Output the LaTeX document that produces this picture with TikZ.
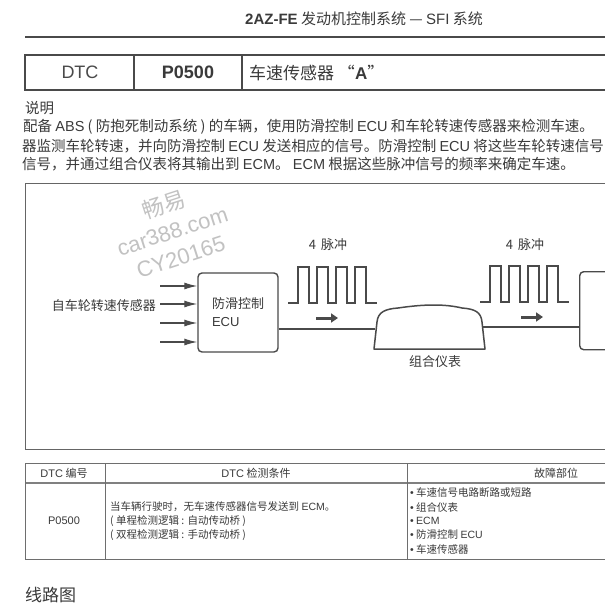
\documentclass[tikz,border=0pt]{standalone}
\usepackage{fontspec}
\setmainfont{Noto Sans CJK SC}
\newfontfamily\lat{Liberation Sans}
\usetikzlibrary{arrows.meta}
\definecolor{tinta}{HTML}{3A3A3A}
\definecolor{trazo}{HTML}{4A4A4A}
\definecolor{marca}{HTML}{C2C2C2}
\newcommand{\en}[1]{{\lat #1}}

\begin{document}
\begin{tikzpicture}[x=1pt,y=-1pt,
   texto/.style={anchor=west,text=tinta,inner sep=0pt,font=\fontsize{14.5}{16}\selectfont},
   tabla/.style={text=tinta,inner sep=0pt,font=\fontsize{10.5}{12}\selectfont},
   rotulo/.style={text=tinta,inner sep=0pt,font=\fontsize{13}{15}\selectfont},
   caja/.style={draw=trazo,line width=1.4pt,rounded corners=4pt,inner sep=0pt},
   linea/.style={trazo,line width=1.2pt},
   pulso/.style={trazo,line width=2pt,line join=miter},
   flecha/.style={trazo,line width=3pt,-{Triangle[length=7pt,width=9pt]}},
   entrada/.style={trazo,line width=1.2pt,-{Latex[length=13pt,width=7pt]}},
   agua/.style={text=marca,rotate=18,inner sep=0pt,align=center,font=\fontsize{22}{27}\selectfont}]

  \fill[white] (0,0) rectangle (605,608);
  \useasboundingbox (0,0) rectangle (605,608);

  % --- cabecera ---
  \node[texto,font=\fontsize{15}{17}\selectfont] (cabecera) at (245,19) {{\lat\bfseries 2AZ-FE} 发动机控制系统 — \en{SFI} 系统};
  \draw[trazo,line width=1.3pt] (25,37) -- (615,37);
  \draw[trazo,line width=1.4pt] (25,55) rectangle (615,90);
  \draw[trazo,line width=1.4pt] (134,55) -- (134,90) (242,55) -- (242,90);
  \node[text=trazo,font=\fontsize{18}{20}\selectfont\lat] (dtc) at (80,72.5) {DTC};
  \node[text=tinta,font=\fontsize{18}{20}\selectfont\lat\bfseries] (codigo) at (188,72.5) {P0500};
  \node[texto,font=\fontsize{17}{20}\selectfont] (titulo) at (249,72.5) {车速传感器 “{\lat\bfseries A}”};

  % --- descripcion ---
  \node[texto] (apartado) at (25,108) {说明};
  \node[texto] (linea1) at (23,127) {配备 \en{ABS} ( 防抱死制动系统 ) 的车辆，使用防滑控制 \en{ECU} 和车轮转速传感器来检测车速。};
  \node[texto] (linea2) at (22,146) {器监测车轮转速，并向防滑控制 \en{ECU} 发送相应的信号。防滑控制 \en{ECU} 将这些车轮转速信号};
  \node[texto] (linea3) at (22,164) {信号，并通过组合仪表将其输出到 \en{ECM}。 \en{ECM} 根据这些脉冲信号的频率来确定车速。};

  % --- esquema ---
  \draw[trazo!85,line width=0.9pt] (615,183) -- (25,183) -- (25,449) -- (615,449);
  \node[agua] (marca) at (172,230) {畅易\\{\lat car388.com}\\{\lat CY20165}};

  \node[caja,align=left,minimum width=80pt,minimum height=79pt,text=tinta,
        font=\fontsize{13}{18}\selectfont] (ecu) at (238,312.5) {防滑控制\\\en{ECU}};
  \node[caja,minimum width=80pt,minimum height=78pt,anchor=north west] (ecm) at (579,271) {};
  \node[rotulo,anchor=east] (sensores) at (156,306) {自车轮转速传感器};
  \foreach \y [count=\i] in {286,304,323,342} {
    \coordinate (sensor\i) at (160,\y);
    \draw[entrada] (sensor\i) -- (sensor\i -| ecu.west);
  }

  % tablero combinado
  \coordinate (tabL) at (375,329);
  \coordinate (tabR) at (483,327);
  \draw[trazo,line width=1.5pt,line join=round] (374,349) -- (377,322)
    .. controls (378,312) and (385,309) .. (398,308)
    .. controls (425,304) and (445,304) .. (462,308)
    .. controls (475,309) and (481,312) .. (482,322) -- (485,349) -- cycle;
  \node[rotulo] (combinado) at (435,362) {组合仪表};
  \draw[linea] (ecu.east |- tabL) -- (tabL);
  \draw[linea] (tabR) -- (tabR -| ecm.west);

  % trenes de pulsos
  \coordinate (pulso1) at (288,303);
  \coordinate (pulso2) at (480,302);
  \foreach \p in {pulso1,pulso2}
    \draw[pulso] (\p) -- ++(10,0)
      \foreach \k in {1,...,4} { -- ++(0,-36) -- ++(11,0) -- ++(0,36) -- ++(8,0) } -- ++(3,0);
  \node[rotulo] (cuenta1) at (328,245) {4\, 脉冲};
  \node[rotulo] (cuenta2) at (525,245) {4\, 脉冲};
  \draw[flecha] (316,318) -- (338,318);
  \draw[flecha] (521,317) -- (543,317);

  % --- tabla DTC ---
  \draw[trazo!80,line width=0.9pt] (25,463) -- (615,463);
  \draw[trazo!70,line width=1.8pt] (25,483) -- (615,483);
  \draw[trazo!80,line width=0.9pt] (25,559) -- (615,559);
  \foreach \x in {25,105,407}
    \draw[trazo!80,line width=0.9pt] (\x,463) -- (\x,559);
  \node[tabla,font=\fontsize{11}{12}\selectfont] (hcodigo) at (64,473) {\en{DTC} 编号};
  \node[tabla,font=\fontsize{11}{12}\selectfont] (hcondicion) at (256,473) {\en{DTC} 检测条件};
  \node[tabla,font=\fontsize{11}{12}\selectfont] (hfallo) at (556,473) {故障部位};
  \node[tabla,font=\fontsize{11}{12}\selectfont\lat] (pcodigo) at (64,521) {P0500};
  \node[tabla,anchor=west] (cond1) at (110,507) {当车辆行驶时，无车速传感器信号发送到 \en{ECM}。};
  \node[tabla,anchor=west] (cond2) at (110,521) {( 单程检测逻辑 : 自动传动桥 )};
  \node[tabla,anchor=west] (cond3) at (110,535) {( 双程检测逻辑 : 手动传动桥 )};
  \foreach \t [count=\i] in {车速信号电路断路或短路,组合仪表,\en{ECM},防滑控制 \en{ECU},车速传感器}
    \node[tabla,anchor=west] (fallo\i) at (410,{479+14*\i}) {{\lat •} \t};

  \node[texto,font=\fontsize{17}{20}\selectfont] (circuito) at (25,595) {线路图};
\end{tikzpicture}
\end{document}
